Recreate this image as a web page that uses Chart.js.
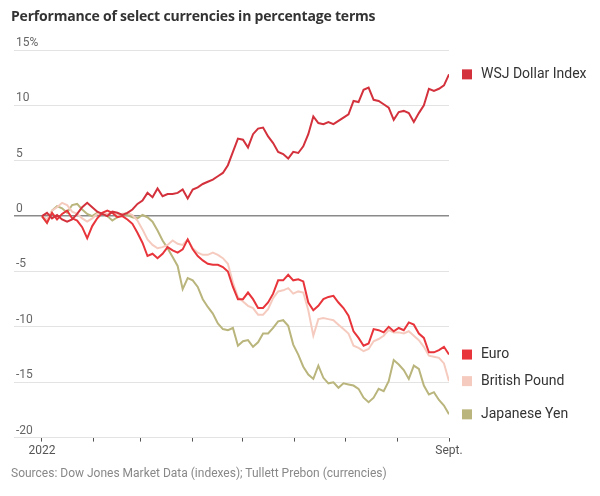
<!DOCTYPE html>
<html lang="en">
<head>
  <meta charset="UTF-8">
  <title>Currency performance</title>
  <style>
    body { margin: 0; background: #fff; font-family: Roboto, Arial, sans-serif; }
    #wrap { position: relative; width: 600px; height: 496px; }
    #title { position: absolute; left: 11px; top: 6px; font-family: "Open Sans", Roboto, sans-serif; font-size: 14px; font-weight: bold; color: #333; letter-spacing: -0.2px; }
    #source { position: absolute; left: 11px; top: 466px; font-size: 12px; color: #888; }
    #box { position: absolute; left: 0; top: 0; width: 600px; height: 496px; }
  </style>
  <script src="https://cdn.jsdelivr.net/npm/chart.js"></script>
</head>
<body>
<div id="wrap">
  <div id="box"><canvas id="chart"></canvas></div>
  <div id="title">Performance of select currencies in percentage terms</div>
  <div id="source">Sources: Dow Jones Market Data (indexes); Tullett Prebon (currencies)</div>
</div>
<script>
  // days since Jan 1 2022, one reading every three days
  const days = [0,3,6,9,12,15,18,21,24,27,30,33,36,39,42,45,48,51,54,57,60,63,66,69,72,75,78,81,84,87,90,93,96,99,102,105,108,111,114,117,120,123,126,129,132,135,138,141,144,147,150,153,156,159,162,165,168,171,174,177,180,183,186,189,192,195,198,201,204,207,210,213,216,219,222,225,228,231,234,237,240,243];

  const dollar = [0,0.3,-0.2,0.1,-0.3,-0.5,-0.3,0.2,0.8,1.2,0.8,0.4,0.2,0.0,0.4,0.3,0.1,0.3,0.6,1.1,1.4,2.1,1.7,2.5,1.8,2.0,2.0,2.1,2.4,1.6,2.4,2.6,2.9,3.1,3.3,3.6,3.9,4.6,5.8,7.0,6.9,6.2,7.4,7.9,8.0,7.2,6.6,5.8,5.6,5.2,5.8,5.7,6.3,7.4,9.0,8.4,8.3,8.5,8.3,8.6,8.9,9.2,10.4,10.3,11.4,11.6,10.5,10.4,10.1,9.8,8.7,9.4,9.5,9.3,8.5,9.3,10.0,11.5,11.3,11.5,11.8,12.8];

  const euro = [0,-0.6,0.3,-0.3,0.2,0.5,-0.2,-0.4,-1.0,-2.0,-0.9,-0.2,0.3,0.5,0.3,-0.1,0.0,-0.3,-0.7,-1.5,-2.4,-3.6,-3.4,-3.8,-3.4,-2.8,-3.1,-3.3,-3.0,-2.1,-3.0,-3.6,-4.0,-4.3,-4.4,-4.4,-4.6,-5.0,-6.4,-7.5,-7.5,-6.9,-7.5,-8.3,-8.3,-7.8,-7.0,-5.8,-5.8,-5.3,-5.8,-5.7,-5.9,-7.8,-8.5,-8.1,-7.5,-7.3,-7.2,-7.8,-8.3,-9.0,-10.4,-11.0,-11.7,-11.5,-10.2,-10.3,-10.5,-10.0,-10.4,-10.1,-10.3,-9.6,-9.8,-10.6,-11.0,-12.3,-12.3,-12.1,-11.8,-12.5];

  const pound = [0,-0.3,0.5,0.8,1.2,1.0,0.4,0.2,-0.2,-0.5,-0.2,0.2,0.3,0.2,0.3,0.1,0.2,0.3,0.1,-0.4,-1.2,-2.1,-2.6,-2.9,-2.8,-2.6,-2.2,-2.5,-2.6,-2.1,-2.9,-3.3,-3.5,-3.5,-3.3,-3.5,-3.8,-4.3,-6.0,-7.3,-7.7,-8.1,-8.3,-8.9,-8.9,-8.4,-7.4,-6.8,-6.7,-6.5,-7.0,-6.8,-6.9,-8.5,-10.8,-9.3,-9.2,-9.3,-9.4,-9.8,-10.2,-10.6,-11.7,-11.9,-12.2,-12.0,-11.3,-11.1,-10.8,-10.3,-10.5,-10.5,-10.6,-10.4,-10.8,-11.2,-11.8,-12.6,-12.7,-12.8,-13.3,-14.9];

  const yen = [0,-0.6,0.5,0.9,0.7,0.3,1.0,1.1,0.6,0.2,0.0,0.3,0.2,0.0,-0.4,-0.1,0.2,0.1,-0.1,-0.2,0.1,-0.1,-0.5,-1.3,-2.2,-2.9,-3.7,-4.5,-6.6,-5.6,-5.8,-6.4,-7.5,-8.2,-8.8,-9.7,-10.2,-10.3,-10.1,-11.7,-11.3,-11.2,-11.8,-11.4,-10.6,-10.6,-10.1,-9.5,-9.4,-9.9,-11.6,-12.5,-13.6,-14.3,-14.7,-13.5,-14.6,-15.1,-15.0,-15.5,-15.1,-15.2,-15.3,-15.6,-16.4,-16.8,-16.4,-15.6,-15.8,-14.9,-13.0,-13.4,-13.9,-14.7,-13.5,-13.8,-15.3,-16.1,-15.9,-16.6,-17.1,-17.9];

  // first day of each month, Jan to Sept
  const monthStarts = [0,31,59,90,120,151,181,212,243];
  const yTicks = [15,10,5,0,-5,-10,-15,-20];

  const names = ['WSJ Dollar Index', 'Euro', 'British Pound', 'Japanese Yen'];
  const colors = ['#d3313c', '#e8353b', '#f6cbbf', '#b9b57c'];
  const series = [dollar, euro, pound, yen];

  function points(vals) {
    return vals.map((v, i) => ({ x: days[i], y: v }));
  }

  // labels at the right, level with each line's last value
  const endLabels = {
    id: 'endLabels',
    afterDatasetsDraw(chart) {
      const ctx = chart.ctx;
      const y = chart.scales.y;
      ctx.save();
      ctx.font = '14px Roboto, Arial, sans-serif';
      ctx.textBaseline = 'middle';
      series.forEach((vals, i) => {
        const py = y.getPixelForValue(vals[vals.length - 1]);
        ctx.fillStyle = colors[i];
        ctx.fillRect(462, py - 5, 10, 10);
        ctx.fillStyle = '#333';
        ctx.fillText(names[i], 481, py);
      });
      ctx.restore();
    }
  };

  const datasets = series.map((vals, i) => ({
    label: names[i],
    data: points(vals),
    borderColor: colors[i],
    borderWidth: 2,
    pointRadius: 0,
    tension: 0,
    order: i
  }));

  new Chart(document.getElementById('chart'), {
    type: 'line',
    data: { datasets: datasets },
    options: {
      responsive: true,
      maintainAspectRatio: false,
      animation: false,
      layout: { padding: { left: 10, right: 151, top: 50, bottom: 36 } },
      plugins: { legend: { display: false }, tooltip: { enabled: false } },
      scales: {
        x: {
          type: 'linear',
          min: -16.7,
          max: 243,
          afterBuildTicks(axis) { axis.ticks = monthStarts.map(v => ({ value: v })); },
          ticks: {
            autoSkip: false,
            maxRotation: 0,
            padding: 2,
            color: '#555',
            font: { size: 12, family: 'Roboto, Arial, sans-serif' },
            callback: v => v === 0 ? '2022' : (v === 243 ? 'Sept.' : '')
          },
          grid: { drawOnChartArea: false, drawTicks: true, tickLength: 4, color: '#555' },
          border: { display: false }
        },
        y: {
          min: -20,
          max: 15,
          afterBuildTicks(axis) { axis.ticks = yTicks.map(v => ({ value: v })); },
          ticks: {
            mirror: true,
            padding: 2,
            labelOffset: -7,
            color: '#666',
            font: { size: 12, family: 'Roboto, Arial, sans-serif' },
            callback: v => v === 15 ? '15%' : String(v)
          },
          grid: {
            drawTicks: false,
            color: c => c.tick.value === 0 ? '#8a8a8a' : '#e3e3e3',
            lineWidth: c => c.tick.value === 0 ? 1.5 : 1
          },
          border: { display: false }
        }
      }
    },
    plugins: [endLabels]
  });
</script>
</body>
</html>
